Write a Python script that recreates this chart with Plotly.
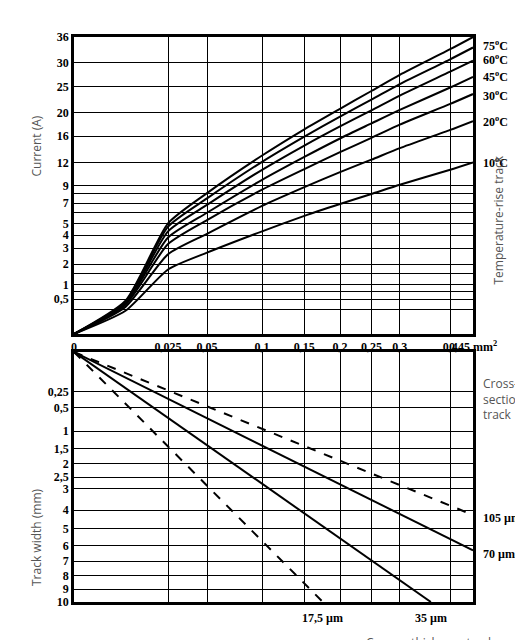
import numpy as np
import plotly.graph_objects as go

# --- data ---
area_ticks = [0.025, 0.05, 0.1, 0.15, 0.2, 0.25, 0.3, 0.4, 0.45]
area_labels = ["0,025", "0,05", "0,1", "0,15", "0,2", "0,25", "0,3", "0,4", "0,45 mm<sup>2</sup>"]
current_grid = [0.25, 0.5, 0.75, 1, 1.5, 2, 3, 4, 5, 6, 7, 8, 9, 12, 16, 20, 25, 30, 36]
current_labels = {0.5: "0,5", 1: "1", 2: "2", 3: "3", 4: "4", 5: "5", 7: "7", 9: "9",
                  12: "12", 16: "16", 20: "20", 25: "25", 30: "30", 36: "36"}
width_ticks = [0.25, 0.5, 1, 1.5, 2, 2.5, 3, 4, 5, 6, 7, 8, 9, 10]
width_labels = ["0,25", "0,5", "1", "1,5", "2", "2,5", "3", "4", "5", "6", "7", "8", "9", "10"]

curve_area = [0, 0.0075, 0.025, 0.05, 0.1, 0.15, 0.2, 0.25, 0.3, 0.4, 0.45]
temp_rise = ["100", "75", "60", "45", "30", "20", "10"]
curve_current = {
    "100": [0, 0.45, 5.0, 8.1, 13.0, 17.1, 20.7, 24.1, 27.4, 33.1, 36],
    "75":  [0, 0.42, 4.7, 7.5, 12.1, 15.9, 19.3, 22.4, 25.5, 30.8, 33.5],
    "60":  [0, 0.40, 4.3, 6.8, 11.0, 14.5, 17.6, 20.4, 23.2, 28.1, 30.5],
    "45":  [0, 0.38, 3.8, 6.0, 9.7, 12.8, 15.6, 18.1, 20.5, 24.8, 27],
    "30":  [0, 0.35, 3.3, 5.3, 8.5, 11.1, 13.5, 15.7, 17.9, 21.6, 23.5],
    "20":  [0, 0.30, 2.6, 4.1, 6.7, 8.8, 10.7, 12.4, 14.1, 17.0, 18.5],
    "10":  [0, 0.22, 1.7, 2.7, 4.3, 5.7, 6.9, 8.0, 9.1, 11.0, 12],
}
temp_label_y = {"100": 38.5, "75": 34, "60": 30.8, "45": 27, "30": 23.3, "20": 18.5, "10": 12}

thickness = ["17,5 µm", "35 µm", "70 µm", "105 µm"]
thick_area = [[0, 0.175], [0, 0.36], [0, 0.45], [0, 0.45]]
thick_width = [[0, 10], [0, 10], [0, 6.3], [0, 4.25]]
thick_dash = ["dash", "solid", "solid", "dash"]

s = np.sqrt
fig = go.Figure()

for t in temp_rise:
    fig.add_trace(go.Scatter(x=s(curve_area), y=s(curve_current[t]), mode="lines",
                             line=dict(color="black", width=2, shape="spline", smoothing=0.6),
                             showlegend=False, xaxis="x", yaxis="y"))
for i, name in enumerate(thickness):
    fig.add_trace(go.Scatter(x=s(thick_area[i]), y=s(thick_width[i]), mode="lines",
                             line=dict(color="black", width=2, dash=thick_dash[i]),
                             showlegend=False, xaxis="x2", yaxis="y2"))

tickfont = dict(family="Liberation Serif", size=12, color="black")
xr = [0, float(s(0.45))]
common = dict(showline=True, linecolor="black", linewidth=2.5, mirror=True,
              showgrid=True, gridcolor="black", gridwidth=1.3, zeroline=False,
              ticks="", tickfont=tickfont, automargin=False)
H = 565.0
top_dom = [(594 - 326) / H, 1.0]
bot_dom = [0.0, (594 - 344) / H]
fig.update_layout(
    xaxis=dict(range=xr, domain=[0, 1], anchor="y", tickvals=[0] + [float(v) for v in s(area_ticks)],
               ticktext=["<b>0</b>"] + ["<b>%s</b>" % l for l in area_labels], tickangle=0, **common),
    yaxis=dict(range=[0, 6], domain=top_dom, anchor="x", tickvals=[float(v) for v in s(current_grid)],
               ticktext=["<b>%s</b>" % current_labels.get(c, "") for c in current_grid], **common),
    xaxis2=dict(range=xr, domain=[0, 1], anchor="y2", tickvals=[float(v) for v in s(area_ticks)],
                showticklabels=False, **common),
    yaxis2=dict(range=[float(s(10)), 0], domain=bot_dom, anchor="x2",
                tickvals=[float(v) for v in s(width_ticks)],
                ticktext=["<b>%s</b>" % l for l in width_labels], **common),
)

sans = dict(family="Open Sans", size=12, color="#555")
ann = []
for t in temp_rise:
    ann.append(dict(x=1.0, xref="paper", xanchor="left", xshift=8, y=float(s(temp_label_y[t])),
                    yref="y", text="<b>%s<sup>o</sup>C</b>" % t, showarrow=False,
                    font=dict(family="Liberation Serif", size=12, color="black")))
ann += [
    dict(x=-0.12, xref="paper", y=3.8, yref="y", text="Current (A)", textangle=-90,
         showarrow=False, font=sans),
    dict(x=-0.12, xref="paper", y=float(s(5.5)), yref="y2", text="Track width (mm)", textangle=-90,
         showarrow=False, font=sans),
    dict(x=1.09, xref="paper", y=2.3, yref="y", text="Temperature-rise track", textangle=-90,
         showarrow=False, font=sans),
    dict(x=1.02, xref="paper", xanchor="left", y=float(s(0.35)), yref="y2", align="left",
         text="Cross-<br>section<br>track", showarrow=False, font=sans),
    dict(x=1.06, xref="paper", xanchor="right", y=-0.09, yref="paper",
         text="Cupper-thickness track", showarrow=False, font=sans),
    dict(x=float(s(0.175)), xref="x2", y=-0.045, yref="paper", text="<b>17,5 µm</b>",
         showarrow=False, font=tickfont),
    dict(x=float(s(0.36)), xref="x2", y=-0.045, yref="paper", text="<b>35 µm</b>",
         showarrow=False, font=tickfont),
    dict(x=1.0, xref="paper", xanchor="left", xshift=8, y=float(s(6.5)), yref="y2",
         text="<b>70 µm</b>", showarrow=False, font=tickfont),
    dict(x=1.0, xref="paper", xanchor="left", xshift=8, y=float(s(4.4)), yref="y2",
         text="<b>105 µm</b>", showarrow=False, font=tickfont),
]
fig.update_layout(width=523, height=640, margin=dict(l=66, r=58, t=29, b=46, autoexpand=False),
                  plot_bgcolor="white", paper_bgcolor="white", annotations=ann)
fig.write_html("out.html")
